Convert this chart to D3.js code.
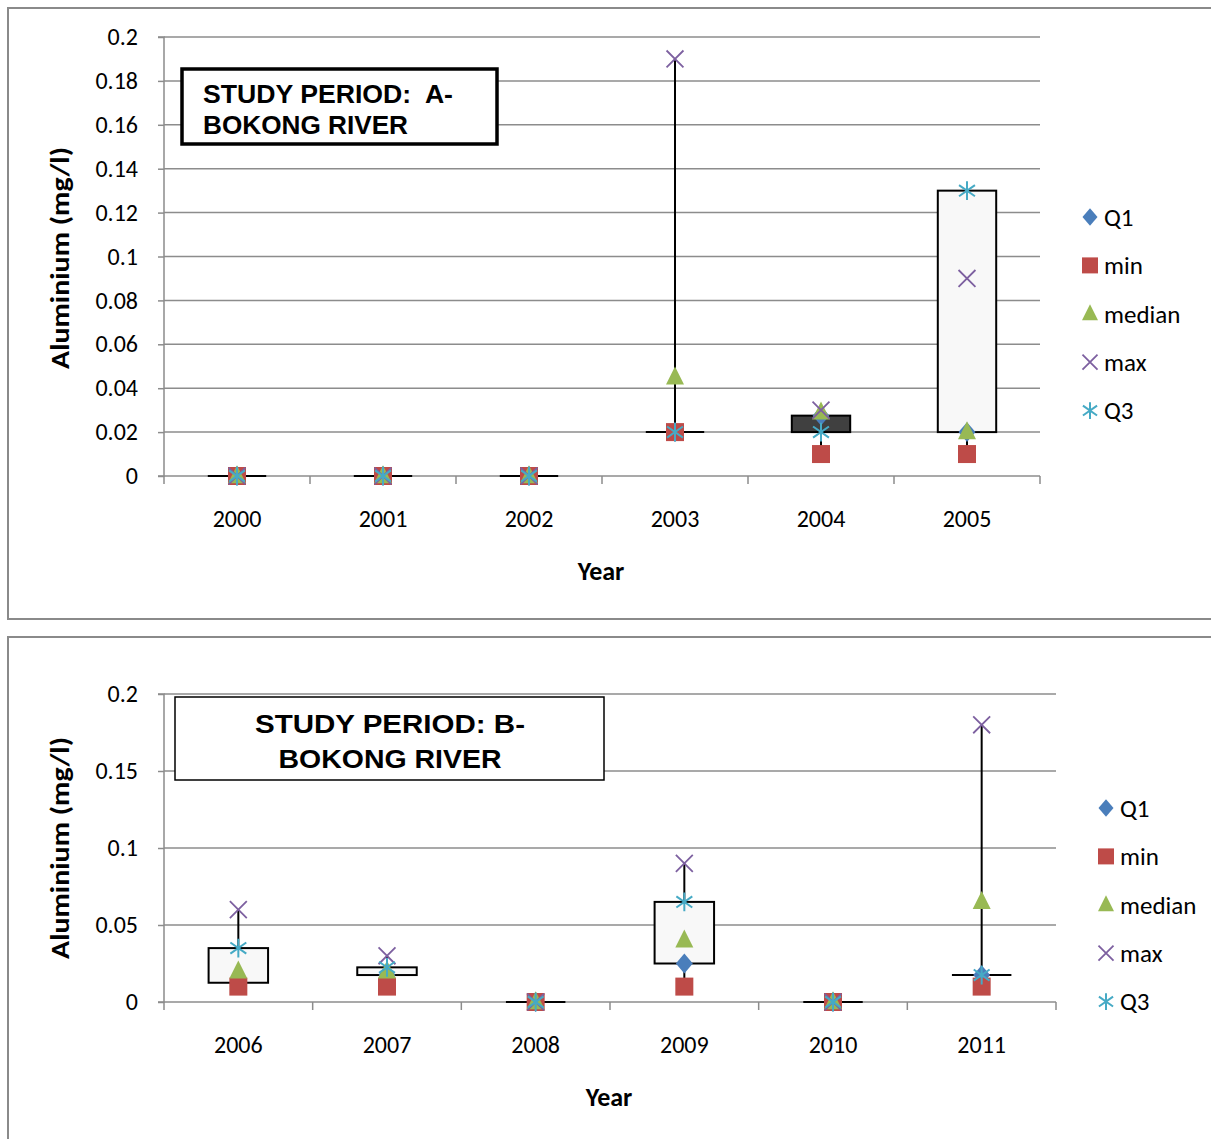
<!DOCTYPE html>
<html><head><meta charset="utf-8">
<script src="https://cdn.jsdelivr.net/npm/d3@7"></script>
<style>
html,body{margin:0;padding:0;background:#fff;}
svg text{font-family:Calibri,Carlito,Lato,"Open Sans",sans-serif;}
</style></head>
<body>
<svg id="chart" width="1211" height="1139"></svg>
<script>
// ---- Data ----
const seriesNames = ["Q1","min","median","max","Q3"];

const yearsA  = ["2000","2001","2002","2003","2004","2005"];
const q1A     = [0, 0, 0, 0.02, 0.0275, 0.02];
const minA    = [0, 0, 0, 0.02, 0.01, 0.01];
const medianA = [0, 0, 0, 0.045, 0.029, 0.02];
const maxA    = [0, 0, 0, 0.19, 0.03, 0.09];
const q3A     = [0, 0, 0, 0.02, 0.02, 0.13];
const ticksA  = [0, 0.02, 0.04, 0.06, 0.08, 0.1, 0.12, 0.14, 0.16, 0.18, 0.2];
const tickLabelsA = ["0","0.02","0.04","0.06","0.08","0.1","0.12","0.14","0.16","0.18","0.2"];

const yearsB  = ["2006","2007","2008","2009","2010","2011"];
const q1B     = [0.0125, 0.0175, 0, 0.025, 0, 0.0175];
const minB    = [0.01, 0.01, 0, 0.01, 0, 0.01];
const medianB = [0.02, 0.02, 0, 0.04, 0, 0.065];
const maxB    = [0.06, 0.03, 0, 0.09, 0, 0.18];
const q3B     = [0.035, 0.0225, 0, 0.065, 0, 0.0175];
const ticksB  = [0, 0.05, 0.1, 0.15, 0.2];
const tickLabelsB = ["0","0.05","0.1","0.15","0.2"];

// ---- Styles ----
const colors = {Q1:"#4a7ebb", min:"#be4b48", median:"#98b954", max:"#7d60a0", Q3:"#46aac5"};
const gridColor = "#8c8c8c";

const svg = d3.select("#chart");
svg.append("rect").attr("width",1211).attr("height",1139).attr("fill","#fff");

function marker(g, type, cx, cy, s) {
  const c = colors[type];
  if (type === "Q1") {
    const w = s*0.47, h = s*0.55;
    g.append("path").attr("d",`M${cx},${cy-h}L${cx+w},${cy}L${cx},${cy+h}L${cx-w},${cy}Z`).attr("fill",c);
  } else if (type === "min") {
    g.append("rect").attr("x",cx-s*0.5).attr("y",cy-s*0.5).attr("width",s).attr("height",s).attr("fill",c);
  } else if (type === "median") {
    const h = s*1.0, w = s;
    g.append("path").attr("d",`M${cx},${cy-h*0.6}L${cx+w/2},${cy+h*0.4}L${cx-w/2},${cy+h*0.4}Z`).attr("fill",c);
  } else if (type === "max") {
    const r = s*0.47;
    g.append("path").attr("d",`M${cx-r},${cy-r}L${cx+r},${cy+r}M${cx+r},${cy-r}L${cx-r},${cy+r}`).attr("stroke",c).attr("stroke-width",1.8).attr("fill","none");
  } else if (type === "Q3") {
    const r = s*0.52;
    let d = `M${cx},${cy-r}L${cx},${cy+r}`;
    const a = r*0.85;
    d += `M${cx-a},${cy-a*0.7}L${cx+a},${cy+a*0.7}M${cx+a},${cy-a*0.7}L${cx-a},${cy+a*0.7}`;
    g.append("path").attr("d",d).attr("stroke",c).attr("stroke-width",2).attr("fill","none");
  }
}

function drawChart(cfg) {
  const g = svg.append("g");
  g.append("rect").attr("x",cfg.frame[0]).attr("y",cfg.frame[1]).attr("width",cfg.frame[2]).attr("height",cfg.frame[3])
    .attr("fill","none").attr("stroke","#8a8a8a").attr("stroke-width",2);

  const x = d3.scaleBand().domain(cfg.years).range([cfg.x0, cfg.x1]);
  const y = d3.scaleLinear().domain([0, 0.2]).range([cfg.y0, cfg.y1]);

  g.selectAll(".grid").data(cfg.ticks.slice(1)).enter().append("line")
    .attr("x1",cfg.x0).attr("x2",cfg.x1).attr("y1",d=>y(d)).attr("y2",d=>y(d))
    .attr("stroke",gridColor).attr("stroke-width",1.5);

  const yAxis = d3.axisLeft(y).tickValues(cfg.ticks).tickFormat((d,i)=>cfg.tickLabels[i]).tickSize(6).tickPadding(20);
  const ya = g.append("g").attr("transform",`translate(${cfg.x0},0)`).call(yAxis);
  ya.select(".domain").attr("stroke",gridColor).attr("stroke-width",1.5).attr("d",`M-6,${cfg.y0}H0V${cfg.y1}H-6`);
  ya.selectAll(".tick line").attr("stroke",gridColor).attr("stroke-width",1.5);
  ya.selectAll(".tick text").attr("font-size",24).attr("fill","#000");

  const xAxis = d3.axisBottom(x).tickSize(0);
  const xa = g.append("g").attr("transform",`translate(0,${cfg.y0})`).call(xAxis);
  xa.select(".domain").attr("stroke",gridColor).attr("stroke-width",1.5).attr("d",`M${cfg.x0},0H${cfg.x1}`);
  xa.selectAll(".tick text").attr("font-size",24).attr("fill","#000").attr("dy","0.35em").attr("y",43);
  const bounds = cfg.years.map(d=>x(d)).concat([cfg.x1]);
  g.selectAll(".xt").data(bounds).enter().append("line")
    .attr("x1",d=>d).attr("x2",d=>d).attr("y1",cfg.y0).attr("y2",cfg.y0+8)
    .attr("stroke",gridColor).attr("stroke-width",1.5);

  const bw = x.bandwidth()*0.4;
  const cx = d => x(d) + x.bandwidth()/2;

  cfg.years.forEach((yr,i)=>{
    const vals = [cfg.q1[i],cfg.min[i],cfg.median[i],cfg.max[i],cfg.q3[i]];
    const lo = d3.min(vals), hi = d3.max(vals);
    if (hi > lo) g.append("line").attr("x1",cx(yr)).attr("x2",cx(yr)).attr("y1",y(lo)).attr("y2",y(hi)).attr("stroke","#000").attr("stroke-width",2);
  });
  cfg.years.forEach((yr,i)=>{
    const o = cfg.q1[i], c = cfg.q3[i];
    if (o === c) {
      g.append("line").attr("x1",cx(yr)-bw/2).attr("x2",cx(yr)+bw/2).attr("y1",y(o)).attr("y2",y(o)).attr("stroke","#000").attr("stroke-width",2);
    } else {
      g.append("rect").attr("x",cx(yr)-bw/2).attr("width",bw)
        .attr("y",y(Math.max(o,c))).attr("height",Math.abs(y(o)-y(c)))
        .attr("fill", c>o ? "#f8f8f8" : "#404040").attr("stroke","#000").attr("stroke-width",2);
    }
  });
  const series = {Q1:cfg.q1, min:cfg.min, median:cfg.median, max:cfg.max, Q3:cfg.q3};
  seriesNames.forEach(s=>{
    cfg.years.forEach((yr,i)=>marker(g, s, cx(yr), y(series[s][i]), 18));
  });

  g.append("text").attr("transform",`translate(${cfg.ylabX},${cfg.ylabY}) rotate(-90)`).attr("text-anchor","middle")
    .attr("dy","0.35em").attr("font-size",27).attr("font-weight","bold")
    .attr("textLength",222).attr("lengthAdjust","spacingAndGlyphs").text("Aluminium (mg/l)");
  g.append("text").attr("x",cfg.xlabX).attr("y",cfg.xlabY).attr("text-anchor","middle").attr("dy","0.35em")
    .attr("font-size",26).attr("font-weight","bold").text("Year");

  seriesNames.forEach((s,i)=>{
    const ly = cfg.legY + i*48.4;
    marker(g, s, cfg.legX, ly, 16);
    g.append("text").attr("x",cfg.legX+14).attr("y",ly).attr("dy","0.35em").attr("font-size",25).text(s);
  });

  const tb = cfg.titleBox;
  g.append("rect").attr("x",tb.x).attr("y",tb.y).attr("width",tb.w).attr("height",tb.h)
    .attr("fill","#fff").attr("stroke","#000").attr("stroke-width",tb.sw);
  tb.lines.forEach((t,i)=>{
    g.append("text").attr("x",tb.tx).attr("y",tb.ty + i*tb.lh).attr("text-anchor",tb.anchor)
      .style("font-family","'Liberation Sans',Arial,sans-serif").style("white-space","pre")
      .attr("font-size",tb.fs).attr("font-weight","bold")
      .attr("textLength",tb.lens[i]).attr("lengthAdjust","spacingAndGlyphs").text(t);
  });
}

drawChart({
  frame:[8,8,1210,611],
  years:yearsA, q1:q1A, min:minA, median:medianA, max:maxA, q3:q3A,
  ticks:ticksA, tickLabels:tickLabelsA,
  x0:164, x1:1040, y0:476, y1:37,
  ylabX:60, ylabY:258, xlabX:601, xlabY:571,
  legX:1090, legY:217,
  titleBox:{x:182,y:69,w:315,h:75,sw:3.5,tx:203,ty:103,lh:31,anchor:"start",fs:25,
            lines:["STUDY PERIOD:  A-","BOKONG RIVER"], lens:[250,205]}
});

drawChart({
  frame:[8,637,1210,520],
  years:yearsB, q1:q1B, min:minB, median:medianB, max:maxB, q3:q3B,
  ticks:ticksB, tickLabels:tickLabelsB,
  x0:164, x1:1056, y0:1002, y1:694,
  ylabX:60, ylabY:848, xlabX:609, xlabY:1097,
  legX:1106, legY:808,
  titleBox:{x:175,y:697,w:429,h:83,sw:1.5,tx:390,ty:733,lh:35,anchor:"middle",fs:25,
            lines:["STUDY PERIOD: B-","BOKONG RIVER"], lens:[270,223]}
});
</script>
</body></html>
